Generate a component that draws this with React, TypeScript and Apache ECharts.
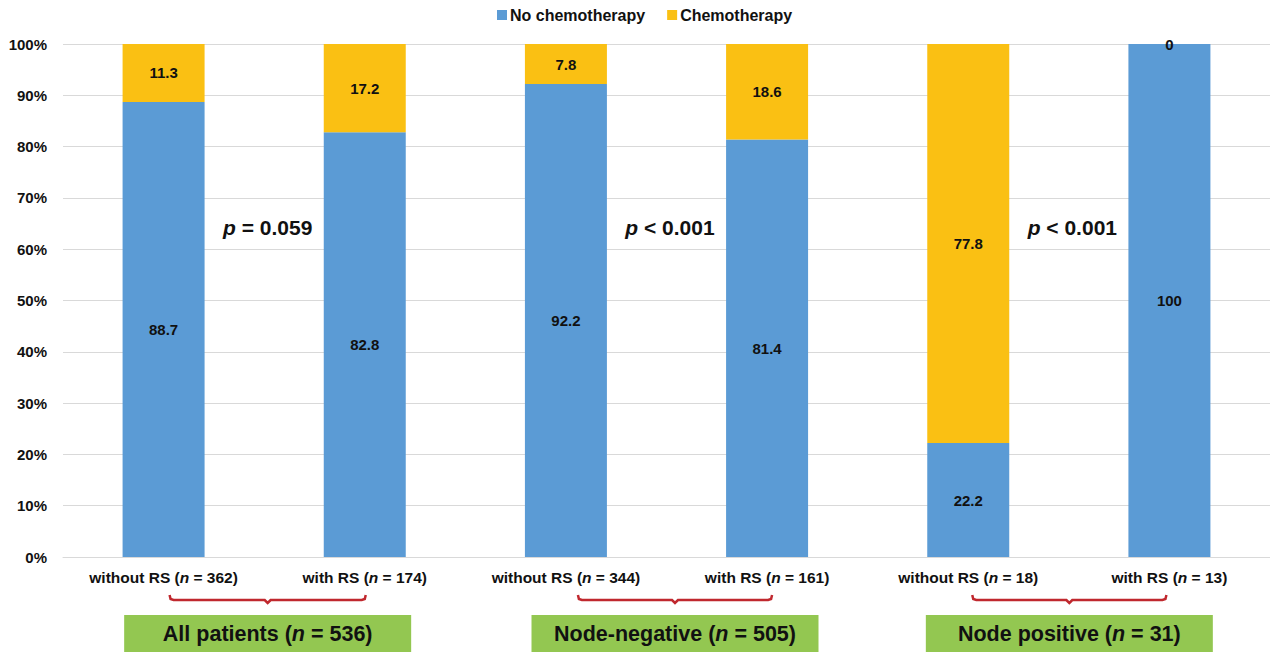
import React, { useEffect, useRef } from "react";
import * as echarts from "echarts";

// Treatment arms and group sizes
const arms = ["without RS", "with RS", "without RS", "with RS", "without RS", "with RS"];
const armN = [362, 174, 344, 161, 18, 13];

// Percentage of patients per arm
const noChemo = [88.7, 82.8, 92.2, 81.4, 22.2, 100];
const chemo = [11.3, 17.2, 7.8, 18.6, 77.8, 0];

// Patient groups (each spans two arms)
const groupNames = ["All patients", "Node-negative", "Node positive"];
const groupN = [536, 505, 31];
const pValues = ["= 0.059", "< 0.001", "< 0.001"];

const categories = arms.map((a, i) => `${a} (n = ${armN[i]})`);

const FONT = "'Liberation Sans', Arial, Helvetica, sans-serif";
const BLUE = "#5B9BD5";
const GOLD = "#FAC013";
const GREEN = "#93C751";
const RED = "#C0282E";

// Bracket end offsets from the two bar centres of each group, and p-label shift
const bracketOffsets = [
  [6, 1],
  [12, 5],
  [4, -3],
];
const pShift = [0, -5, 3];

export default function App() {
  const ref = useRef<HTMLDivElement>(null);

  useEffect(() => {
    if (!ref.current) return;
    const chart = echarts.init(ref.current, undefined, { renderer: "svg" });

    const labelStyle = {
      show: true,
      position: "inside" as const,
      color: "#111",
      fontWeight: "bold" as const,
      fontSize: 15,
      fontFamily: FONT,
    };

    chart.setOption({
      animation: false,
      textStyle: { fontFamily: FONT },
      legend: {
        top: 2,
        left: 492,
        itemWidth: 10,
        itemHeight: 10,
        itemGap: 22,
        icon: "rect",
        textStyle: {
          fontSize: 16,
          fontWeight: "bold",
          color: "#111",
          fontFamily: FONT,
          padding: [0, 0, 0, -2],
        },
        data: ["No chemotherapy", "Chemotherapy"],
      },
      grid: { left: 63, right: -2, top: 44, bottom: 95, containLabel: false },
      xAxis: {
        type: "category",
        data: categories,
        axisLine: { show: true, lineStyle: { color: "#D9D9D9", width: 1 } },
        axisTick: { show: false },
        axisLabel: {
          margin: 12,
          interval: 0,
          formatter: (v: string) =>
            "{b|" + v.replace("(n = ", "(}{i|n}{b| = ") + "}",
          rich: {
            b: { fontSize: 15.5, fontWeight: "bold", color: "#111", fontFamily: FONT },
            i: {
              fontSize: 15.5,
              fontWeight: "bold",
              fontStyle: "italic",
              color: "#111",
              fontFamily: FONT,
            },
          },
        },
      },
      yAxis: {
        type: "value",
        min: 0,
        max: 100,
        interval: 10,
        axisLine: { show: false },
        axisTick: { show: false },
        splitLine: { show: true, lineStyle: { color: "#D9D9D9", width: 1 } },
        axisLabel: {
          formatter: "{value}%",
          margin: 16,
          fontSize: 15,
          fontWeight: "bold",
          color: "#111",
          fontFamily: FONT,
        },
      },
      series: [
        {
          name: "No chemotherapy",
          type: "bar",
          stack: "total",
          barWidth: 82,
          itemStyle: { color: BLUE },
          label: labelStyle,
          data: noChemo,
        },
        {
          name: "Chemotherapy",
          type: "bar",
          stack: "total",
          barWidth: 82,
          itemStyle: { color: GOLD },
          label: labelStyle,
          data: chemo,
        },
      ],
    });

    // Group annotations: brackets, p-values and group boxes
    const cx = (i: number) =>
      chart.convertToPixel({ xAxisIndex: 0 }, categories[i]) as number;
    const pY = chart.convertToPixel({ yAxisIndex: 0 }, 64.3) as number;
    const richStyle = (size: number) => ({
      b: { fontSize: size, fontWeight: "bold", fill: "#111", fontFamily: FONT },
      i: {
        fontSize: size,
        fontWeight: "bold",
        fontStyle: "italic",
        fill: "#111",
        fontFamily: FONT,
      },
    });
    const graphics: any[] = [];
    groupNames.forEach((name, g) => {
      const x1 = cx(2 * g) + bracketOffsets[g][0];
      const x2 = cx(2 * g + 1) + bracketOffsets[g][1];
      const mid = (x1 + x2) / 2;
      const yb = 600;
      graphics.push({
        type: "polyline",
        shape: {
          points: [
            [x1, yb - 5],
            [x1 + 1, yb - 1],
            [x1 + 4, yb],
            [mid - 3, yb],
            [mid, yb + 3],
            [mid + 3, yb],
            [x2 - 4, yb],
            [x2 - 1, yb - 1],
            [x2, yb - 5],
          ],
        },
        style: { stroke: RED, lineWidth: 2.5, fill: null },
      });
      graphics.push({
        type: "rect",
        shape: { x: mid - 143.5, y: 615, width: 287, height: 37 },
        style: { fill: GREEN },
      });
      graphics.push({
        type: "text",
        x: mid,
        y: 634,
        style: {
          text: `{b|${name} (}{i|n}{b| = ${groupN[g]})}`,
          align: "center",
          verticalAlign: "middle",
          rich: richStyle(21.5),
        },
      });
      graphics.push({
        type: "text",
        x: mid + pShift[g],
        y: pY,
        style: {
          text: `{i|p}{b| ${pValues[g]}}`,
          align: "center",
          verticalAlign: "middle",
          rich: richStyle(21),
        },
      });
    });
    chart.setOption({ graphic: graphics });

    return () => chart.dispose();
  }, []);

  return (
    <div
      ref={ref}
      style={{ position: "fixed", left: 0, top: 0, width: 1270, height: 652, background: "#fff" }}
    />
  );
}
